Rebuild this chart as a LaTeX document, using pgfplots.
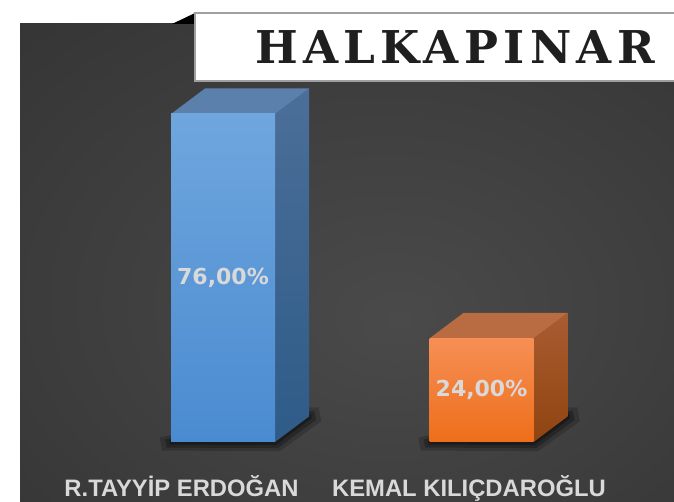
\documentclass[border=0pt]{standalone}
\usepackage{fontspec}
\setmainfont{Liberation Sans}
\newfontfamily\valfont{DejaVu Sans}
\newfontfamily\titlefont[LetterSpace=12]{DejaVu Serif}
\usepackage{pgfplots}
\pgfplotsset{compat=1.18}
\definecolor{bgin}{HTML}{4A4A4A}
\definecolor{bgmid}{HTML}{3A3A3A}
\definecolor{bgout}{HTML}{232323}
\definecolor{labelgray}{HTML}{D9D9D9}
\definecolor{bft}{HTML}{6FA6DE}
\definecolor{bfb}{HTML}{4A8BD0}
\definecolor{btop}{HTML}{5B80AB}
\definecolor{bst}{HTML}{4B6F98}
\definecolor{bsb}{HTML}{2E5B88}
\definecolor{oft}{HTML}{F68F55}
\definecolor{ofb}{HTML}{EE6E1A}
\definecolor{otop}{HTML}{B96B42}
\definecolor{ost}{HTML}{AA5C31}
\definecolor{osb}{HTML}{8F4410}
\pgfdeclareradialshading{bgshade}{\pgfpoint{4bp}{-6bp}}{color(0bp)=(bgin); color(30bp)=(bgmid); color(72bp)=(bgout)}
\begin{document}
\begin{tikzpicture}
\useasboundingbox (0,0) rectangle (337pt,251pt);
\clip (0,0) rectangle (337pt,251pt);
% background / decoration axis in pixel units
\begin{axis}[scale only axis, width=337pt, height=251pt,
  xmin=0, xmax=674, ymin=0, ymax=502, hide axis, clip=false]
  \fill[white] (axis cs:0,0) rectangle (axis cs:674,502);
  \shade[shading=bgshade] (axis cs:20,0) rectangle (axis cs:674,478);
  \fill[black] (axis cs:172,478) -- (axis cs:195,478) -- (axis cs:195,489) -- cycle;
  \draw[fill=white, draw=gray!75, line width=0.7pt] (axis cs:195,421) rectangle (axis cs:690,489);
  \node[font=\titlefont\bfseries\fontsize{22.6}{24}\selectfont, text=black!88] at (axis cs:455,455) {HALKAPINAR};
\end{axis}
% data axis
\begin{axis}[scale only axis, width=337pt, height=251pt,
  xmin=-0.86267, xmax=1.74468, ymin=-13.902, ymax=102.41,
  axis line style={draw=none}, major tick length=0pt, ytick=\empty,
  xtick={-0.1605,0.9516},
  xticklabels={R.TAYYİP ERDOĞAN, KEMAL KILIÇDAROĞLU},
  xticklabel style={anchor=base, yshift=2.6pt, font=\bfseries\fontsize{11.9}{12}\selectfont, text=labelgray},
  clip=false]
  % shadows
  \addplot[draw=none, fill=black, fill opacity=0.18, forget plot] coordinates {(-0.245,1.0) (-0.235,-2.0) (0.22,-2.1) (0.38,4.8) (0.37,8.0) (0.25,8.0)} -- cycle;
  \addplot[draw=none, fill=black, fill opacity=0.25, forget plot] coordinates {(-0.225,0.6) (-0.218,-1.3) (0.212,-1.4) (0.36,5.1) (0.353,7.2) (0.25,7.2)} -- cycle;
  \addplot[draw=none, fill=black, fill opacity=0.3, forget plot] coordinates {(-0.208,0.3) (-0.205,-0.6) (0.205,-0.7) (0.343,5.5) (0.34,6.6) (0.25,6.6)} -- cycle;
  \addplot[draw=none, fill=black, fill opacity=0.18, forget plot] coordinates {(0.755,1.0) (0.765,-2.0) (1.22,-2.1) (1.38,4.8) (1.37,8.0) (1.25,8.0)} -- cycle;
  \addplot[draw=none, fill=black, fill opacity=0.25, forget plot] coordinates {(0.775,0.6) (0.782,-1.3) (1.212,-1.4) (1.36,5.1) (1.353,7.2) (1.25,7.2)} -- cycle;
  \addplot[draw=none, fill=black, fill opacity=0.3, forget plot] coordinates {(0.792,0.3) (0.795,-0.6) (1.205,-0.7) (1.343,5.5) (1.34,6.6) (1.25,6.6)} -- cycle;
  % blue bar: side and top faces
  \addplot[draw=none, top color=bst, bottom color=bsb, forget plot] coordinates {(0.2012,0) (0.2012,76) (0.3327,81.909) (0.3327,5.909)} -- cycle;
  \addplot[draw=none, fill=btop, forget plot] coordinates {(-0.2012,76) (0.2012,76) (0.3327,81.909) (-0.0697,81.909)} -- cycle;
  % orange bar: side and top faces
  \addplot[draw=none, top color=ost, bottom color=osb, forget plot] coordinates {(1.2012,0) (1.2012,24) (1.3327,29.909) (1.3327,5.909)} -- cycle;
  \addplot[draw=none, fill=otop, forget plot] coordinates {(0.7988,24) (1.2012,24) (1.3327,29.909) (0.9303,29.909)} -- cycle;
  % front faces
  \addplot[ybar, bar width=0.4023, bar shift=0pt, draw=none, top color=bft, bottom color=bfb] coordinates {(0,76)};
  \addplot[ybar, bar width=0.4023, bar shift=0pt, draw=none, top color=oft, bottom color=ofb] coordinates {(1,24)};
  % value labels at mid-height of each bar
  \addplot[draw=none, mark=none, point meta=explicit,
    nodes near coords={\pgfmathprintnumber[fixed, fixed zerofill, precision=2, use comma, assume math mode=true]{\pgfplotspointmeta}\%},
    every node near coord/.append style={anchor=center, font=\valfont\bfseries\fontsize{11}{12}\selectfont, text=labelgray}]
    coordinates {(0,38) [76] (1,12) [24]};
\end{axis}
\end{tikzpicture}
\end{document}
